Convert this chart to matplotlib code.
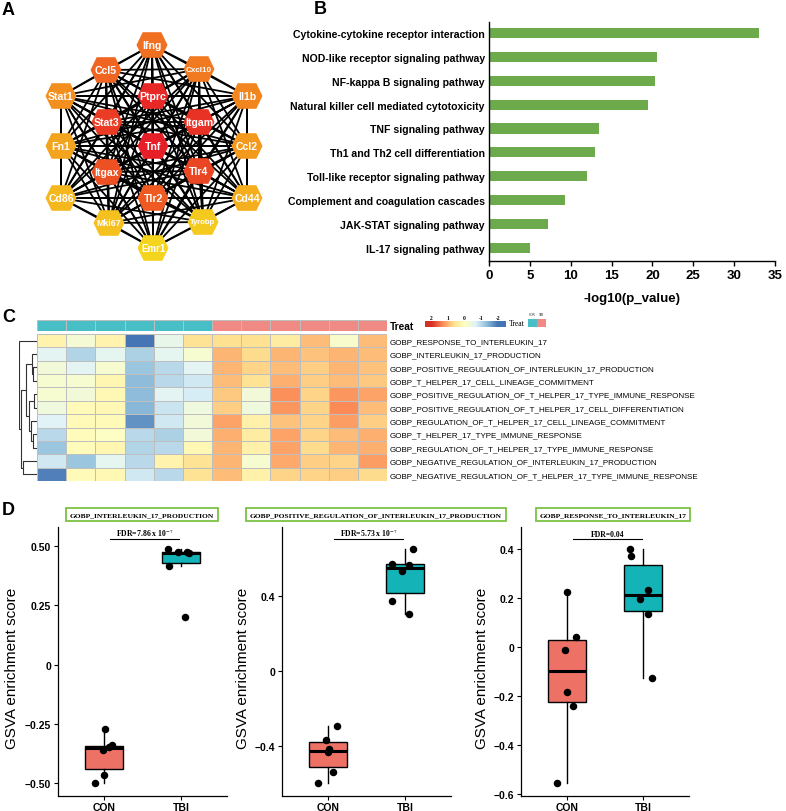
import numpy as np
import matplotlib
matplotlib.use("Agg")
import matplotlib.pyplot as plt
from matplotlib.patches import Polygon, Rectangle
from matplotlib.collections import LineCollection
from matplotlib.colors import LinearSegmentedColormap, Normalize
from itertools import combinations

plt.rcParams['font.family'] = ['Liberation Sans', 'DejaVu Sans']
plt.rcParams['mathtext.fontset'] = 'stix'

# ---------------- Panel A data (PPI network) ----------------
genes = ["Ifng", "Ccl5", "Cxcl10", "Stat1", "Il1b", "Ptprc", "Stat3", "Itgam", "Fn1",
         "Ccl2", "Tnf", "Itgax", "Tlr4", "Cd86", "Cd44", "Tlr2", "Mki67", "Tyrobp", "Emr1"]
hub_rank = [9, 8, 10, 12, 11, 2, 4, 3, 14, 13, 1, 6, 5, 16, 15, 7, 17, 18, 19]
# network layout (drawing coordinates)
layout_x = [152, 106, 199, 61, 247, 153, 107, 199, 61, 247, 153, 107, 199, 61, 247, 153, 109, 203, 153]
layout_y = [46, 71, 70, 97, 97, 97, 123, 123, 147, 147, 147, 173, 172, 199, 199, 199, 224, 223, 249]
label_size = [7.6, 7.6, 5.8, 7.6, 7.6, 7.6, 7.6, 7.6, 7.6, 7.6, 7.6, 7.6, 7.6, 7.6, 7.6, 7.6, 6.3, 5.5, 7.0]

# ---------------- Panel B data (KEGG) ----------------
pathways = ["Cytokine-cytokine receptor interaction", "NOD-like receptor signaling pathway",
            "NF-kappa B signaling pathway", "Natural killer cell mediated cytotoxicity",
            "TNF signaling pathway", "Th1 and Th2 cell differentiation",
            "Toll-like receptor signaling pathway", "Complement and coagulation cascades",
            "JAK-STAT signaling pathway", "IL-17 signaling pathway"]
neglog10p = [33.1, 20.5, 20.3, 19.5, 13.5, 13.0, 12.05, 9.35, 7.2, 5.05]

# ---------------- Panel C data (GSVA heatmap) ----------------
go_terms = ["GOBP_RESPONSE_TO_INTERLEUKIN_17", "GOBP_INTERLEUKIN_17_PRODUCTION",
            "GOBP_POSITIVE_REGULATION_OF_INTERLEUKIN_17_PRODUCTION",
            "GOBP_T_HELPER_17_CELL_LINEAGE_COMMITMENT",
            "GOBP_POSITIVE_REGULATION_OF_T_HELPER_17_TYPE_IMMUNE_RESPONSE",
            "GOBP_POSITIVE_REGULATION_OF_T_HELPER_17_CELL_DIFFERENTIATION",
            "GOBP_REGULATION_OF_T_HELPER_17_CELL_LINEAGE_COMMITMENT",
            "GOBP_T_HELPER_17_TYPE_IMMUNE_RESPONSE",
            "GOBP_REGULATION_OF_T_HELPER_17_TYPE_IMMUNE_RESPONSE",
            "GOBP_NEGATIVE_REGULATION_OF_INTERLEUKIN_17_PRODUCTION",
            "GOBP_NEGATIVE_REGULATION_OF_T_HELPER_17_TYPE_IMMUNE_RESPONSE"]
sample_group = ["CON"] * 6 + ["TBI"] * 6
z_con = [
    [0.25, -0.25, 0.25, -2.0, -0.5, 0.6],
    [-0.6, -1.05, -0.55, -1.1, -0.55, -0.2],
    [-0.3, -0.6, -0.2, -1.25, -1.0, -0.6],
    [-0.2, -0.2, 0.2, -1.35, -1.0, -0.8],
    [-0.2, -0.3, 0.15, -1.35, -0.6, -0.75],
    [-0.35, 0.1, 0.15, -1.4, -0.85, -0.35],
    [-0.65, 0.1, 0.1, -1.75, -0.8, -0.3],
    [-1.0, 0.05, -0.05, -1.0, -1.1, -0.3],
    [-1.25, 0.05, 0.2, -1.05, -1.0, 0.15],
    [-0.8, -1.25, -0.55, -1.0, 0.25, 0.6],
    [-1.9, 0.1, 0.15, -0.8, -1.0, 0.6],
]
z_tbi = [
    [0.65, 0.65, 0.4, 0.95, -0.15, 0.95],
    [1.0, 0.7, 1.0, 0.9, 1.0, 0.95],
    [1.0, 0.75, 0.95, 0.8, 1.0, 0.9],
    [0.95, 0.6, 1.05, 0.8, 0.95, 0.85],
    [0.85, -0.3, 1.3, 0.75, 1.25, 1.15],
    [0.8, -0.35, 1.25, 0.75, 1.35, 0.95],
    [1.15, 0.3, 0.9, 0.75, 1.2, 0.8],
    [1.05, 0.4, 1.15, 0.75, 0.95, 1.05],
    [1.0, 0.3, 1.15, 0.7, 1.0, 1.05],
    [1.0, -0.2, 1.1, 0.8, 0.75, 1.2],
    [0.95, 0.3, 0.75, 0.75, 0.8, 0.7],
]
# row dendrogram merges: (child a, child b, height); leaves 0..10, new clusters 11..
row_merges = [(2, 3, 10), (1, 11, 15), (4, 5, 8), (7, 8, 10), (6, 14, 18),
              (13, 15, 22), (12, 16, 32), (9, 10, 40), (17, 18, 44), (0, 19, 50)]
legend_ticks = [2, 1, 0, -1, -2]

# ---------------- Panel D data (GSVA boxplots) ----------------
box_titles = ["GOBP_INTERLEUKIN_17_PRODUCTION",
              "GOBP_POSITIVE_REGULATION_OF_INTERLEUKIN_17_PRODUCTION",
              "GOBP_RESPONSE_TO_INTERLEUKIN_17"]
box_fdr = ["FDR=7.86 x 10$^{-7}$", "FDR=5.73 x 10$^{-7}$", "FDR=0.04"]
groups = ["CON", "TBI"]
il17prod_con = [-0.50, -0.465, -0.36, -0.345, -0.34, -0.27]
il17prod_tbi = [0.49, 0.475, 0.476, 0.472, 0.415, 0.20]
posreg_con = [-0.597, -0.538, -0.43, -0.416, -0.367, -0.29]
posreg_tbi = [0.655, 0.575, 0.568, 0.538, 0.375, 0.306]
resp_con = [-0.558, -0.241, -0.187, -0.014, 0.04, 0.223]
resp_tbi = [0.40, 0.37, 0.23, 0.195, 0.131, -0.127]
box_ticks = [[-0.5, -0.25, 0, 0.25, 0.5], [-0.4, 0, 0.4], [-0.6, -0.4, -0.2, 0, 0.2, 0.4]]
box_ticklabels = [["\u22120.50", "\u22120.25", "0", "0.25", "0.50"],
                  ["\u22120.4", "0", "0.4"],
                  ["\u22120.6", "\u22120.4", "\u22120.2", "0", "0.2", "0.4"]]
# horizontal jitter of the dots (drawing offsets)
jit_con = [[-0.115, 0.0, -0.02, 0.064, 0.107, 0.013],
           [-0.126, 0.065, 0.0, 0.012, -0.03, 0.11],
           [-0.13, 0.075, 0.0, -0.022, 0.118, 0.0]]
jit_tbi = [[-0.167, -0.04, 0.08, 0.1, -0.16, 0.05],
           [0.108, -0.173, 0.056, -0.039, -0.169, 0.056],
           [-0.175, -0.162, 0.066, -0.04, 0.061, 0.114]]

# ======================================================================
W, H = 786, 812
fig = plt.figure(figsize=(W / 100, H / 100), dpi=100)


def pax(l, t, r, b):
    return fig.add_axes([l / W, 1 - b / H, (r - l) / W, (b - t) / H])


def ftext(x, y, s, **kw):
    return fig.text(x / W, 1 - y / H, s, **kw)


# panel letters
for letter, (x, y) in zip("ABCD", [(8, 10.5), (320, 10), (9, 317.5), (8, 511)]):
    ftext(x, y, letter, fontsize=13, fontweight='bold', ha='center', va='center')

# ---------------- Panel A ----------------
axA = pax(0, 0, 275, 290)
axA.set_xlim(0, 275)
axA.set_ylim(290, 0)
axA.axis('off')
pos = np.column_stack([layout_x, layout_y])
segs = [[pos[i], pos[j]] for i, j in combinations(range(len(genes)), 2)]
axA.add_collection(LineCollection(segs, colors='black', linewidths=1.3, zorder=1))
cmapA = LinearSegmentedColormap.from_list('hub', ['#E61E28', '#EE5A22', '#F39A1E', '#F5D41E'])
hw, hh = 15.5, 12.8
hex_shape = np.array([[-hw, 0], [-0.6 * hw, -hh], [0.6 * hw, -hh], [hw, 0],
                      [0.6 * hw, hh], [-0.6 * hw, hh]])
for i, g in enumerate(genes):
    col = cmapA((hub_rank[i] - 1) / (len(genes) - 1))
    axA.add_patch(Polygon(hex_shape + pos[i], closed=True, fc=col, ec='none', zorder=2))
    axA.text(pos[i][0], pos[i][1], g, color='white', fontweight='bold',
             fontsize=label_size[i], ha='center', va='center', zorder=3)

# ---------------- Panel B ----------------
axB = pax(489, 23, 775, 262)
yb = np.arange(len(pathways))
axB.barh(yb, neglog10p, height=0.42, color='#6CAA4C')
axB.set_xlim(0, 35)
axB.set_ylim(len(pathways) - 0.45, -0.46)
axB.set_yticks(yb)
axB.set_yticklabels(pathways, fontsize=7.6, fontweight='bold')
axB.set_xticks(np.arange(0, 36, 5))
axB.tick_params(axis='y', length=0, pad=3)
axB.tick_params(axis='x', length=3.6, width=1, pad=2.5, labelsize=9.5)
for lab in axB.get_xticklabels():
    lab.set_fontweight('bold')
for s in ['top', 'right']:
    axB.spines[s].set_visible(False)
for s in ['left', 'bottom']:
    axB.spines[s].set_linewidth(1.0)
ftext(632, 299, "-log10(p_value)", fontsize=9.5, fontweight='bold', ha='center', va='center')

# ---------------- Panel C ----------------
hm_cols = ['#4575B4', '#91BFDB', '#E0F3F8', '#FFFFBF', '#FEE090', '#FC8D59', '#D73027']
cmapC = LinearSegmentedColormap.from_list('rdylbu_r', hm_cols)
normC = Normalize(vmin=-2, vmax=2)
Z = np.hstack([np.array(z_con), np.array(z_tbi)])
nr, nc = Z.shape

axH = pax(37, 335, 387, 482)
axH.pcolormesh(np.arange(nc + 1), np.arange(nr + 1), Z, cmap=cmapC, norm=normC,
               edgecolors='#BEBEBE', linewidth=0.7)
axH.set_xlim(0, nc)
axH.set_ylim(nr, 0)
axH.set_xticks([])
axH.yaxis.tick_right()
axH.set_yticks(np.arange(nr) + 0.5)
axH.set_yticklabels(go_terms, fontsize=5.8)
axH.tick_params(axis='y', length=0, pad=2.2)
for s in axH.spines.values():
    s.set_visible(False)

group_colors = {"CON": '#48BEC7', "TBI": '#F08A84'}
axT = pax(37, 321, 387, 332)
for j, g in enumerate(sample_group):
    axT.add_patch(Rectangle((j, 0), 1, 1, fc=group_colors[g], ec='#BEBEBE', lw=0.7))
axT.set_xlim(0, nc)
axT.set_ylim(0, 1)
axT.axis('off')
ftext(390, 326.5, "Treat", fontsize=7.3, fontweight='bold', ha='left', va='center')

# dendrogram
axD = pax(19, 335, 37, 482)
ypos = {i: i + 0.5 for i in range(nr)}
hpos = {i: 0.0 for i in range(nr)}
for k, (a, b, h) in enumerate(row_merges):
    nid = nr + k
    axD.plot([hpos[a], h, h, hpos[b]], [ypos[a], ypos[a], ypos[b], ypos[b]],
             color='#333333', lw=0.8, solid_capstyle='butt')
    ypos[nid] = (ypos[a] + ypos[b]) / 2
    hpos[nid] = h
axD.set_xlim(51, 0)
axD.set_ylim(nr, 0)
axD.axis('off')

# color legend
axL = pax(425, 322.3, 506, 327.7)
grad = np.linspace(2.4, -2.5, 256).reshape(1, -1)
axL.imshow(grad, cmap=cmapC, norm=normC, aspect='auto', extent=[2.4, -2.5, 0, 1])
axL.set_xlim(2.4, -2.5)
axL.axis('off')
for v in legend_ticks:
    axL.text(v, 1.25, str(v), fontsize=4, family='Liberation Serif',
             fontweight='bold', ha='center', va='bottom')
ftext(508.7, 324, "Treat", fontsize=5.5, family='Liberation Serif', ha='left', va='center')
for k, g in enumerate(groups):
    x0 = 528.3 + k * 8.8
    fig.patches.append(Rectangle((x0 / W, 1 - 328.3 / H), 8.8 / W, 8.3 / H,
                                 transform=fig.transFigure, fc=group_colors[g], ec='none'))
    ftext(x0 + 4.4, 315.5, g, fontsize=2.3, family='Liberation Serif', ha='center', va='center')

# ---------------- Panel D ----------------
box_cols = ['#EE7166', '#14B3B8']
cons = [il17prod_con, posreg_con, resp_con]
tbis = [il17prod_tbi, posreg_tbi, resp_tbi]
xr = [(58, 227), (282, 451), (521, 689)]
ylab_x = [12, 243, 482]
title_x = [142, 376, 613]
for k in range(3):
    l, r = xr[k]
    ax = pax(l, 528, r, 796.5)
    con, tbi = np.array(cons[k]), np.array(tbis[k])
    allv = np.concatenate([con, tbi])
    lo, hi = allv.min(), allv.max()
    ybr = hi + 0.04 * (hi - lo)
    span = ybr - lo
    ax.set_ylim(lo - 0.05 * span, ybr + 0.05 * span)
    ax.set_xlim(0.4, 2.6)
    bp = ax.boxplot([con, tbi], positions=[1, 2], widths=0.5, patch_artist=True,
                    showfliers=False, showcaps=False,
                    medianprops=dict(color='black', lw=2.2),
                    boxprops=dict(lw=1.0, edgecolor='black'),
                    whiskerprops=dict(lw=1.0, color='black'))
    for patch, col in zip(bp['boxes'], box_cols):
        patch.set_facecolor(col)
    ax.plot(1 + np.array(jit_con[k]), con, 'o', color='black', ms=4.4, zorder=5)
    ax.plot(2 + np.array(jit_tbi[k]), tbi, 'o', color='black', ms=4.4, zorder=5)
    ax.plot([1.08, 1.98], [ybr, ybr], color='black', lw=0.8, clip_on=False)
    ax.annotate(box_fdr[k], xy=(1.53, ybr), xytext=(0, 1.2), textcoords='offset points',
                ha='center', va='bottom', fontsize=5.6, family='Liberation Serif',
                fontweight='bold', annotation_clip=False)
    ax.set_xticks([1, 2])
    ax.set_xticklabels(groups, fontsize=7.5, fontweight='bold')
    ax.set_yticks(box_ticks[k])
    ax.set_yticklabels(box_ticklabels[k], fontsize=7.5, fontweight='bold')
    ax.tick_params(length=3, width=0.8, pad=2)
    for s in ['top', 'right']:
        ax.spines[s].set_visible(False)
    for s in ['left', 'bottom']:
        ax.spines[s].set_linewidth(0.9)
    ftext(ylab_x[k], 668, "GSVA enrichment score", fontsize=11, rotation=90,
          ha='center', va='center')
    ftext(title_x[k], 515.5, box_titles[k], fontsize=5.4, family='Liberation Serif',
          fontweight='bold', ha='center', va='center',
          bbox=dict(boxstyle='square,pad=0.5', fc='white', ec='#7AC143', lw=1.3))

fig.savefig("out.png", dpi=100)
